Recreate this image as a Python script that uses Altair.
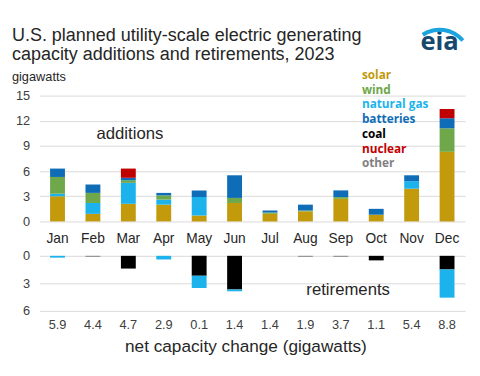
import altair as alt
import pandas as pd

months = ["Jan", "Feb", "Mar", "Apr", "May", "Jun", "Jul", "Aug", "Sep", "Oct", "Nov", "Dec"]

# additions (gigawatts)
add_solar = [3.0, 0.9, 2.1, 2.0, 0.7, 2.2, 0.9, 1.2, 2.7, 0.8, 3.9, 8.3]
add_gas = [0.3, 1.3, 2.5, 0.6, 2.2, 0.0, 0.0, 0.0, 0.0, 0.0, 0.9, 0.0]
add_wind = [2.0, 1.2, 0.3, 0.5, 0.0, 0.6, 0.15, 0.1, 0.2, 0.0, 0.0, 2.8]
add_batt = [1.0, 1.0, 0.3, 0.3, 0.8, 2.7, 0.25, 0.7, 0.8, 0.7, 0.7, 1.2]
add_nuclear = [0.0, 0.0, 1.1, 0.0, 0.0, 0.0, 0.0, 0.0, 0.0, 0.0, 0.0, 1.1]

# retirements (gigawatts)
ret_coal = [0.0, 0.0, 1.4, 0.0, 2.2, 3.7, 0.0, 0.0, 0.0, 0.5, 0.0, 1.5]
ret_gas = [0.2, 0.0, 0.0, 0.4, 1.35, 0.2, 0.0, 0.0, 0.0, 0.0, 0.0, 3.1]
ret_other = [0.0, 0.1, 0.0, 0.0, 0.0, 0.0, 0.0, 0.1, 0.1, 0.0, 0.0, 0.0]

net = [5.9, 4.4, 4.7, 2.9, 0.1, 1.4, 1.4, 1.9, 3.7, 1.1, 5.4, 8.8]

sources = ["solar", "wind", "natural gas", "batteries", "coal", "nuclear", "other"]
colors = ["#C29A0C", "#6EA84A", "#1CB3EC", "#0F6DB8", "#000000", "#C00000", "#7F7F7F"]

title_lines = ["U.S. planned utility-scale electric generating",
               "capacity additions and retirements, 2023"]

W, H = 433, 219
FONT = "Liberation Sans"

# ---- tables
add_rows = []
for i, m in enumerate(months):
    for o, (src, vals) in enumerate([("solar", add_solar), ("natural gas", add_gas),
                                      ("wind", add_wind), ("batteries", add_batt),
                                      ("nuclear", add_nuclear)]):
        if vals[i] > 0:
            add_rows.append({"month": m, "source": src, "value": vals[i], "ord": o})
add_df = pd.DataFrame(add_rows)

ret_rows = []
for i, m in enumerate(months):
    for o, (src, vals) in enumerate([("coal", ret_coal), ("natural gas", ret_gas),
                                      ("other", ret_other)]):
        if vals[i] > 0:
            ret_rows.append({"month": m, "source": src, "value": vals[i], "ord": o})
ret_df = pd.DataFrame(ret_rows)

month_df = pd.DataFrame({"month": months, "net": [f"{v:.1f}" for v in net]})
legend_df = pd.DataFrame({"source": sources, "rank": list(range(len(sources)))})

xscale = alt.Scale(domain=months, paddingInner=0.58, paddingOuter=0.3)
cscale = alt.Scale(domain=sources, range=colors)
X = alt.X("month:N", scale=xscale, axis=None)

axis_common = dict(orient="left", title=None, grid=True, gridColor="#D9D9D9",
                   domain=False, ticks=False, labelPadding=10, labelFontSize=13,
                   labelColor="#404040", labelFont=FONT)

top = alt.Chart(add_df).mark_bar().encode(
    x=X,
    y=alt.Y("value:Q", stack="zero",
            scale=alt.Scale(domain=[0, 15], range=[128, 0], nice=False),
            axis=alt.Axis(values=[0, 3, 6, 9, 12, 15], **axis_common)),
    color=alt.Color("source:N", scale=cscale, legend=None),
    order=alt.Order("ord:Q"),
)

bottom = alt.Chart(ret_df).mark_bar().encode(
    x=X,
    y=alt.Y("value:Q", stack="zero",
            scale=alt.Scale(domain=[0, 6], range=[163, 218.5], nice=False),
            axis=alt.Axis(values=[0, 3, 6], **axis_common)),
    color=alt.Color("source:N", scale=cscale, legend=None),
    order=alt.Order("ord:Q"),
)

month_text = alt.Chart(month_df).mark_text(
    fontSize=14, color="#262626", font=FONT, baseline="middle"
).encode(x=X, y=alt.value(146), text="month:N")

net_text = alt.Chart(month_df).mark_text(
    fontSize=13, color="#404040", font=FONT, baseline="middle"
).encode(x=X, y=alt.value(233), text="net:N")

legend_text = alt.Chart(legend_df).mark_text(
    fontSize=12, fontWeight="bold", font="Open Sans", align="left", baseline="middle"
).encode(
    x=alt.value(328),
    y=alt.Y("rank:Q", scale=alt.Scale(domain=[0, 6], range=[-21, 69], nice=False), axis=None),
    text="source:N",
    color=alt.Color("source:N", scale=cscale, legend=None),
)


def label(txt, x, y, size, align="left", color="#262626", weight="normal", font=FONT,
          baseline="alphabetic"):
    return alt.Chart(pd.DataFrame({"t": [txt]})).mark_text(
        fontSize=size, align=align, color=color, fontWeight=weight, font=font,
        baseline=baseline
    ).encode(x=alt.value(x), y=alt.value(y), text="t:N")


layers = [
    top, bottom, month_text, net_text, legend_text,
    label(title_lines[0], -28, -56, 18.3),
    label(title_lines[1], -28, -36, 18.3),
    label("gigawatts", -28, -15, 13),
    label("additions", 92, 39, 17, align="center", baseline="middle"),
    label("retirements", 314, 198, 17, align="center", baseline="middle"),
    label("net capacity change (gigawatts)", 210, 256, 17.5, align="center", baseline="middle"),
    label("eia", 407, -46, 26, align="center", color="#17496F", weight="bold", font="Open Sans"),
    alt.Chart(pd.DataFrame({"a": [0]})).mark_arc(
        theta=5.70, theta2=7.15, radius=33, radius2=29, color="#1BA3DF"
    ).encode(x=alt.value(407), y=alt.value(-36)),
]

chart = alt.layer(*layers).resolve_scale(y="independent").properties(
    width=W, height=H,
    autosize=alt.AutoSizeParams(type="none"),
    padding={"left": 32, "top": 86, "right": 7, "bottom": 55},
).configure_view(stroke=None)

chart.save("out.html", embed_options={"renderer": "svg", "actions": False})
